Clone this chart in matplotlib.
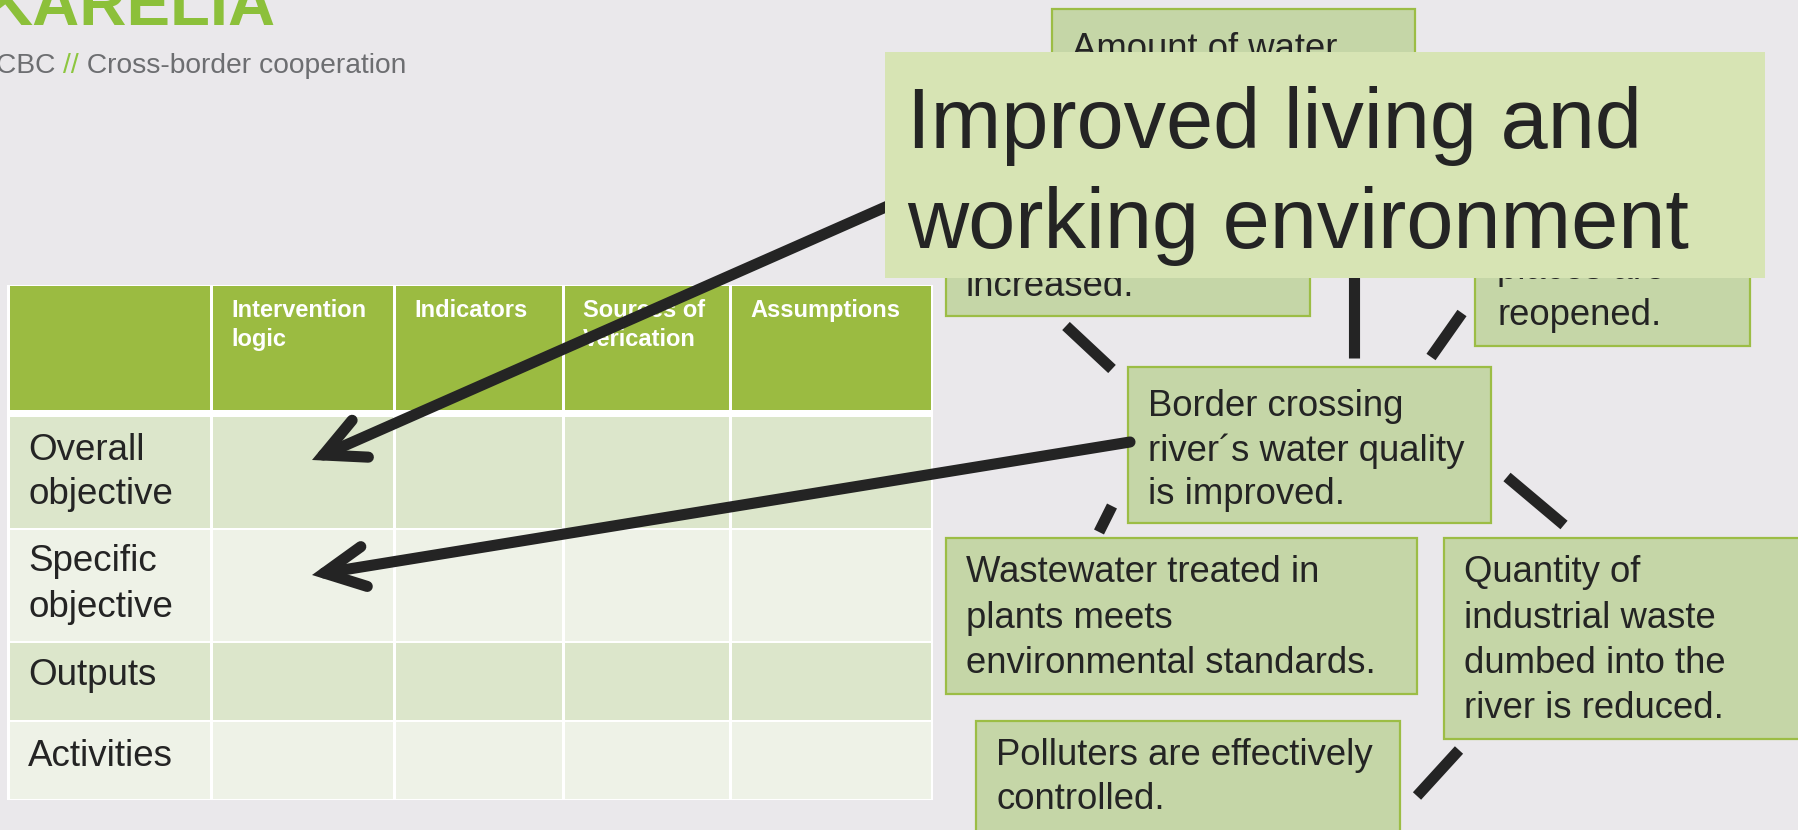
import matplotlib
matplotlib.use("Agg")
import matplotlib.pyplot as plt
from matplotlib.patches import Rectangle

plt.rcParams['font.family'] = ['Liberation Sans', 'DejaVu Sans']

# --- contenido ---
logo = "KARELIA"
subtitulo = ["CBC ", "//", " Cross-border cooperation"]
encabezados = ["Intervention\nlogic", "Indicators", "Sources of\nVerication", "Assumptions"]
filas = ["Overall\nobjective", "Specific\nobjective", "Outputs", "Activities"]
titulo = ["Improved living and", "working environment"]
cajas_txt = {
    "amount": ["Amount of water"],
    "increased": ["increased."],
    "reopened": ["places are", "reopened."],
    "border": ["Border crossing", "river\u00b4s water quality", "is improved."],
    "waste": ["Wastewater treated in", "plants meets", "environmental standards."],
    "quantity": ["Quantity of", "industrial waste", "dumbed into the", "river is reduced."],
    "polluters": ["Polluters are effectively", "controlled."],
}

# --- layout (pixeles) ---
W, H = 1798, 830
col_x = [8, 211, 394, 563, 730, 932]
fila_y = [286, 410, 417, 528, 530, 641, 643, 720, 722, 799]
fila_base = [[460, 504], [571, 617], [685], [766]]
cajas_pos = {
    "amount": (1052, 9, 1415, 200, 1072, [59]),
    "increased": (946, 150, 1310, 316, 966, [296]),
    "reopened": (1475, 150, 1750, 346, 1497, [279, 325]),
    "border": (1128, 367, 1491, 523, 1148, [416, 461, 504]),
    "waste": (946, 538, 1417, 694, 966, [582, 628, 673]),
    "quantity": (1444, 538, 1810, 739, 1464, [582, 628, 673, 718]),
    "polluters": (976, 721, 1400, 840, 996, [765, 809]),
}
lineas = [((1066, 326), (1112, 369)),
          ((1354, 250), (1354, 358)),
          ((1462, 313), (1431, 357)),
          ((1112, 506), (1099, 532)),
          ((1507, 477), (1564, 525)),
          ((1459, 750), (1417, 796))]
flechas = [((940, 183), (312, 460)),
           ((1130, 442), (312, 575))]

fondo = "#EAE8EB"
verde = "#9BBB41"
caja_col = "#C5D6A7"
oscuro = "#242424"

fig = plt.figure(figsize=(W / 100, H / 100), dpi=100, facecolor=fondo)
ax = fig.add_axes([0, 0, 1, 1])
ax.set_xlim(0, W)
ax.set_ylim(H, 0)
ax.axis("off")
ax.set_facecolor(fondo)

# logo
ax.text(-14, 25, logo, fontsize=47, fontweight="bold", color="#8CC03A", va="baseline")
r = fig.canvas.get_renderer()
x = -4
for i, parte in enumerate(subtitulo):
    t = ax.text(x, 73, parte, fontsize=20.3, color="#8DC63F" if i == 1 else "#6D6E71", va="baseline")
    bb = t.get_window_extent(r)
    x += bb.width  # 1 px = 1 unidad

# tabla
ax.add_patch(Rectangle((col_x[0] - 1, fila_y[0] - 1), col_x[-1] - col_x[0] + 2, fila_y[-1] - fila_y[0] + 2,
                       facecolor="white", edgecolor="none", zorder=1))
colores_fila = ["#DCE6CB", "#EEF2E7", "#DCE6CB", "#EEF2E7"]
for j in range(5):
    x0, x1 = col_x[j] + 1.5, col_x[j + 1] - 1.5
    ax.add_patch(Rectangle((x0, fila_y[0]), x1 - x0, fila_y[1] - fila_y[0], facecolor=verde,
                           edgecolor="none", zorder=1.5))
    for i in range(4):
        y0, y1 = fila_y[2 + 2 * i], fila_y[3 + 2 * i]
        ax.add_patch(Rectangle((x0, y0), x1 - x0, y1 - y0, facecolor=colores_fila[i],
                               edgecolor="none", zorder=1.5))
for j, enc in enumerate(encabezados):
    for k, linea in enumerate(enc.split("\n")):
        ax.text(col_x[j + 1] + 20, 317 + 29 * k, linea, fontsize=17, fontweight="bold",
                color="white", va="baseline", zorder=2)
for i, fila in enumerate(filas):
    for k, linea in enumerate(fila.split("\n")):
        ax.text(28, fila_base[i][k], linea, fontsize=26.5, color=oscuro, va="baseline", zorder=2)

# cajas
for nombre, lineas_txt in cajas_txt.items():
    x0, y0, x1, y1, tx, bases = cajas_pos[nombre]
    ax.add_patch(Rectangle((x0, y0), x1 - x0, y1 - y0, facecolor=caja_col, edgecolor="#9CBD45",
                           lw=1.6, zorder=2))
    for linea, b in zip(lineas_txt, bases):
        ax.text(tx, b, linea, fontsize=26.3, color=oscuro, va="baseline", zorder=2.5)

for (a, b) in lineas:
    ax.plot([a[0], b[0]], [a[1], b[1]], color=oscuro, lw=8, solid_capstyle="butt", zorder=3)

for (a, b) in flechas:
    ax.annotate("", xy=b, xytext=a,
                arrowprops=dict(arrowstyle="->,head_length=2.9,head_width=1.45", lw=8, color=oscuro,
                                shrinkA=0, shrinkB=0, capstyle="round", joinstyle="miter"),
                zorder=3)

# caja grande
ax.add_patch(Rectangle((885, 52), 1765 - 885, 278 - 52, facecolor="#D7E4B4", edgecolor="none", zorder=5))
for k, linea in enumerate(titulo):
    ax.text(907, 148 + 100 * k, linea, fontsize=61, color=oscuro, va="baseline", zorder=6)

fig.savefig("out.png", dpi=100, facecolor=fondo)
